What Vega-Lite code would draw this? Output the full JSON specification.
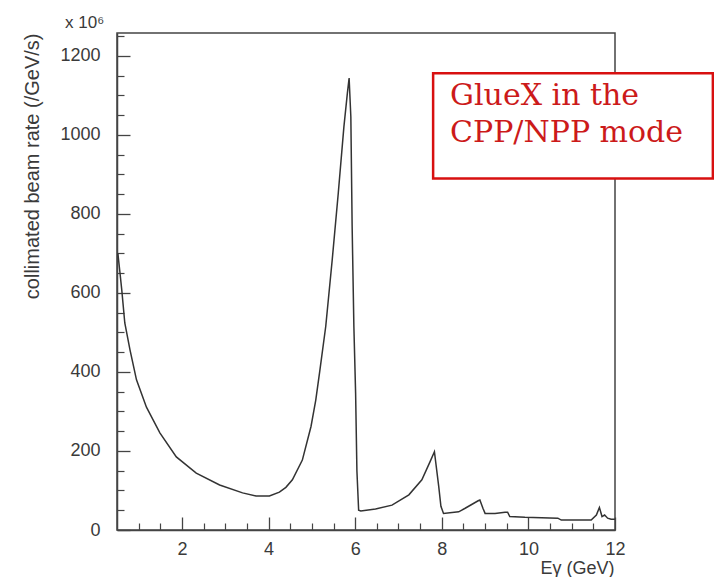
{
  "$schema": "https://vega.github.io/schema/vega-lite/v6.json",
  "autosize": "none",
  "width": 498,
  "height": 497,
  "padding": {"left": 117, "top": 33, "right": 99, "bottom": 47},
  "background": "white",
  "config": {
    "view": {"stroke": "#444", "strokeWidth": 1.5},
    "font": "Liberation Sans"
  },
  "title": {"text": "x 10⁶", "anchor": "start", "frame": "group", "dx": -52, "offset": -12, "baseline": "alphabetic", "fontSize": 17, "font": "Liberation Sans", "fontWeight": "normal", "color": "#3a3a3a"},
  "datasets": {
    "spectrum": [
      {"x": 0.52, "y": 700}, {"x": 0.56, "y": 660}, {"x": 0.61, "y": 608}, {"x": 0.68, "y": 524},
      {"x": 0.80, "y": 456}, {"x": 0.95, "y": 380}, {"x": 1.18, "y": 311}, {"x": 1.49, "y": 246},
      {"x": 1.87, "y": 185}, {"x": 2.33, "y": 144}, {"x": 2.87, "y": 114}, {"x": 3.40, "y": 94},
      {"x": 3.71, "y": 86}, {"x": 4.02, "y": 86}, {"x": 4.25, "y": 96}, {"x": 4.40, "y": 108},
      {"x": 4.55, "y": 127}, {"x": 4.78, "y": 177}, {"x": 4.98, "y": 262}, {"x": 5.09, "y": 329},
      {"x": 5.18, "y": 400}, {"x": 5.32, "y": 515}, {"x": 5.47, "y": 684}, {"x": 5.61, "y": 853},
      {"x": 5.74, "y": 1021}, {"x": 5.82, "y": 1106}, {"x": 5.86, "y": 1144}, {"x": 5.90, "y": 1046},
      {"x": 5.93, "y": 768}, {"x": 5.97, "y": 515}, {"x": 6.01, "y": 347}, {"x": 6.04, "y": 150},
      {"x": 6.08, "y": 50}, {"x": 6.13, "y": 48}, {"x": 6.47, "y": 53}, {"x": 6.85, "y": 63},
      {"x": 7.24, "y": 89}, {"x": 7.54, "y": 127}, {"x": 7.73, "y": 173}, {"x": 7.83, "y": 198},
      {"x": 7.93, "y": 110}, {"x": 7.98, "y": 60}, {"x": 8.04, "y": 42}, {"x": 8.39, "y": 46},
      {"x": 8.54, "y": 55}, {"x": 8.84, "y": 74}, {"x": 8.88, "y": 76}, {"x": 8.95, "y": 55},
      {"x": 9.0, "y": 42}, {"x": 9.23, "y": 42}, {"x": 9.46, "y": 45}, {"x": 9.52, "y": 45},
      {"x": 9.57, "y": 34}, {"x": 9.92, "y": 32}, {"x": 10.68, "y": 30}, {"x": 10.76, "y": 25},
      {"x": 11.45, "y": 25}, {"x": 11.57, "y": 38}, {"x": 11.64, "y": 57}, {"x": 11.70, "y": 34},
      {"x": 11.76, "y": 38}, {"x": 11.83, "y": 30}, {"x": 11.91, "y": 27}, {"x": 12.0, "y": 27}
    ],
    "box": [{"x": 7.80, "xe": 14.26, "y": 890, "ye": 1156}],
    "label": [
      {"x": 8.19, "y": 1075, "t": "GlueX in the"},
      {"x": 8.19, "y": 981, "t": "CPP/NPP mode"}
    ]
  },
  "layer": [
    {
      "data": {"name": "spectrum"},
      "mark": {"type": "line", "color": "#333", "strokeWidth": 1.5},
      "encoding": {
        "x": {
          "field": "x", "type": "quantitative",
          "scale": {"domain": [0.5, 12], "nice": false, "zero": false},
          "axis": {
            "title": "Eγ (GeV)",
            "values": [2, 4, 6, 8, 10, 12],
            "format": "d",
            "tickSize": -13,
            "labelPadding": 23,
            "labelFlush": false,
            "labelOverlap": false,
            "grid": false,
            "domainColor": "#444", "domainWidth": 1.5,
            "tickColor": "#444", "tickWidth": 1.3,
            "labelFont": "Liberation Sans", "labelFontSize": 18, "labelColor": "#3a3a3a",
            "titleFont": "Liberation Sans", "titleFontSize": 18, "titleFontWeight": "normal", "titleColor": "#3a3a3a",
            "titleAnchor": "end", "titleAlign": "right", "titleX": 497, "titleY": 38, "titleBaseline": "middle"
          }
        },
        "y": {
          "field": "y", "type": "quantitative",
          "scale": {"domain": [0, 1258], "nice": false, "zero": false},
          "axis": {
            "title": "collimated beam rate (/GeV/s)",
            "values": [0, 200, 400, 600, 800, 1000, 1200],
            "format": "d",
            "tickSize": -13,
            "labelPadding": 30,
            "labelOverlap": false,
            "grid": false,
            "domainColor": "#444", "domainWidth": 1.5,
            "tickColor": "#444", "tickWidth": 1.3,
            "labelFont": "Liberation Sans", "labelFontSize": 18, "labelColor": "#3a3a3a",
            "titleFont": "Liberation Sans", "titleFontSize": 20, "titleFontWeight": "normal", "titleColor": "#3a3a3a",
            "titleAngle": -90, "titleAlign": "right", "titleBaseline": "middle", "titleX": -85, "titleY": 0
          }
        }
      }
    },
    {
      "data": {"name": "box"},
      "mark": {"type": "rect", "fill": "white", "stroke": "#d81010", "strokeWidth": 2.5},
      "encoding": {
        "x": {
          "field": "x", "type": "quantitative",
          "axis": {
            "orient": "bottom",
            "values": [1, 1.5, 2.5, 3, 3.5, 4.5, 5, 5.5, 6.5, 7, 7.5, 8.5, 9, 9.5, 10.5, 11, 11.5],
            "tickSize": -7, "labels": false, "domain": false, "title": null, "grid": false,
            "tickColor": "#444", "tickWidth": 1.2
          }
        },
        "x2": {"field": "xe"},
        "y": {
          "field": "y", "type": "quantitative",
          "axis": {
            "orient": "left",
            "values": [50, 100, 150, 250, 300, 350, 450, 500, 550, 650, 700, 750, 850, 900, 950, 1050, 1100, 1150, 1250],
            "tickSize": -7, "labels": false, "domain": false, "title": null, "grid": false,
            "tickColor": "#444", "tickWidth": 1.2
          }
        },
        "y2": {"field": "ye"}
      }
    },
    {
      "data": {"name": "label"},
      "mark": {"type": "text", "align": "left", "baseline": "alphabetic", "font": "DejaVu Serif", "fontSize": 30, "color": "#cc1a1a"},
      "encoding": {
        "x": {"field": "x", "type": "quantitative", "axis": null},
        "y": {"field": "y", "type": "quantitative", "axis": null},
        "text": {"field": "t"}
      }
    }
  ],
  "resolve": {"axis": {"x": "independent", "y": "independent"}}
}
